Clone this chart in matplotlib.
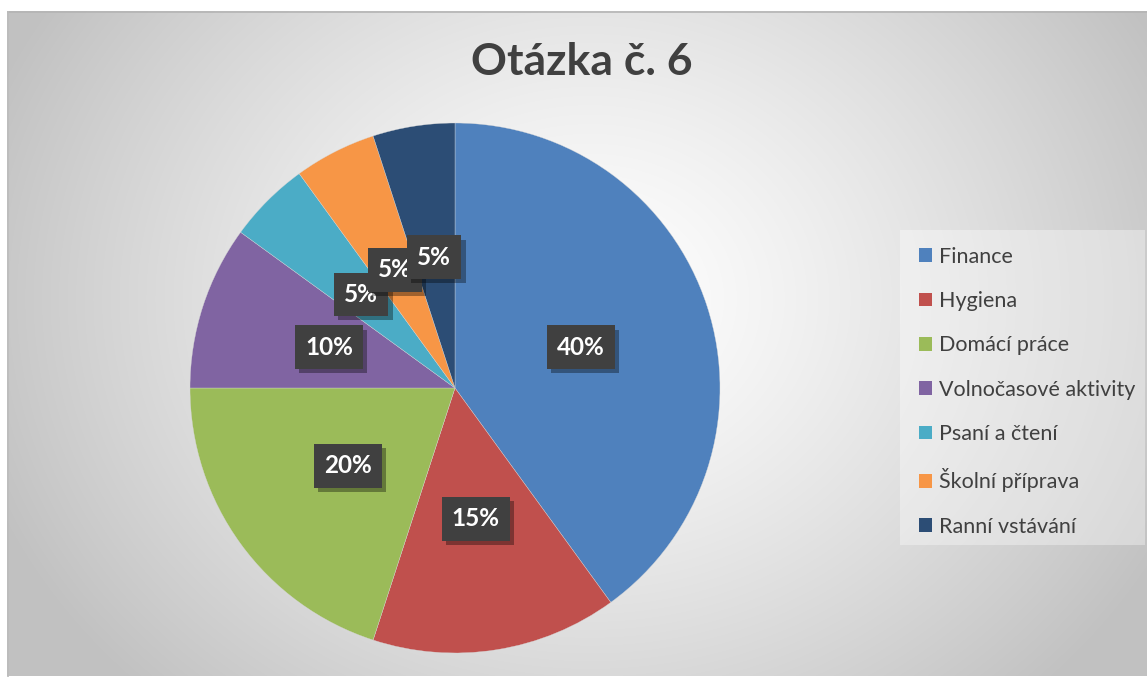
import numpy as np
import matplotlib
matplotlib.use("Agg")
import matplotlib.pyplot as plt
import matplotlib.patheffects as pe
from matplotlib.patches import Patch, Rectangle

categories = ["Finance", "Hygiena", "Domácí práce", "Volnočasové aktivity",
              "Psaní a čtení", "Školní příprava", "Ranní vstávání"]
values = [40, 15, 20, 10, 5, 5, 5]
colors = ["#4F81BD", "#C0504D", "#9BBB59", "#8064A2", "#4BACC6", "#F79646", "#2C4D75"]
title = "Otázka č. 6"

plt.rcParams["font.family"] = ["Lato", "DejaVu Sans"]

W, H = 1147, 677
fig = plt.figure(figsize=(W / 100, H / 100), dpi=100)
fig.patch.set_facecolor("white")

# pozadí grafu - radiální přechod
left, top = 7, 11
bg = fig.add_axes([left / W, 0, 1 - left / W, (H - top) / H], zorder=0)
yy, xx = np.mgrid[0:H - top, 0:W - left]
cx, cy = 590 - left, 300 - top
d = np.sqrt(((xx - cx) / 1.0) ** 2 + ((yy - cy) / 0.85) ** 2)
d = np.clip(d / 640, 0, 1)
shade = 1 - 0.24 * d ** 1.3
bg.imshow(np.dstack([shade, shade, shade]), aspect="auto", interpolation="bilinear")
bg.axis("off")
# světlejší plocha pod legendou
bg.add_patch(Rectangle((900 - left, 230 - top), 245, 315,
                       facecolor="white", alpha=0.35, edgecolor="none"))
bg.plot([0, W - left], [0.5, 0.5], color="#b4b4b4", lw=1.2)
bg.plot([0.5, 0.5], [0, H - top], color="#bcbcbc", lw=1.2)
bg.set_xlim(0, W - left)
bg.set_ylim(H - top, 0)

# koláč
r = 265
cxp, cyp = 455, 388
ax = fig.add_axes([(cxp - r) / W, 1 - (cyp + r) / H, 2 * r / W, 2 * r / H], zorder=1)
wedges, texts, autotexts = ax.pie(
    values, colors=colors, startangle=90, counterclock=False,
    autopct="%1.0f%%", pctdistance=0.5, radius=1,
    wedgeprops=dict(edgecolor="#d8d8d8", linewidth=0.25))
ax.set_xlim(-1, 1)
ax.set_ylim(-1, 1)
ax.set_aspect("equal")

for t in autotexts:
    t.set_color("white")
    t.set_fontsize(17.5)
    t.set_fontweight("bold")
    t.set_bbox(dict(boxstyle="square,pad=0.42", facecolor="#404040", edgecolor="none"))
    t.get_bbox_patch().set_path_effects(
        [pe.SimplePatchShadow(offset=(3, -3), shadow_rgbFace="black", alpha=0.35), pe.Normal()])

# legenda
handles = [Patch(facecolor=c, edgecolor="none") for c in colors]
leg = fig.legend(handles, categories, loc="upper left",
                 bbox_to_anchor=(908 / W, 1 - 236 / H), frameon=False,
                 fontsize=15.5, handlelength=0.6, handleheight=0.6,
                 handletextpad=0.35, labelspacing=1.13, borderpad=0)
leg.set_zorder(5)
for t in leg.get_texts():
    t.set_color("#404040")

fig.text(582 / W, 1 - 62 / H, title, ha="center", va="center",
         fontsize=32, fontweight="bold", color="#404040", zorder=5)

fig.savefig("out.png", dpi=100)
